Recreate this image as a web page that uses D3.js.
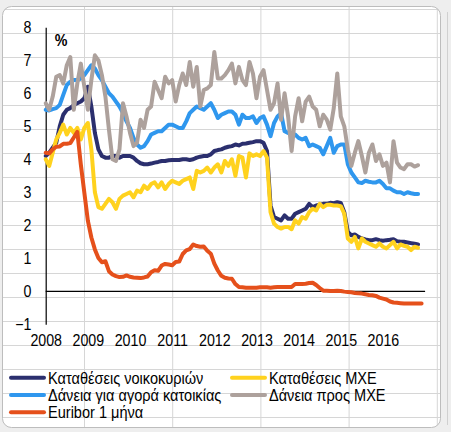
<!DOCTYPE html>
<html><head><meta charset="utf-8">
<script src="https://cdn.jsdelivr.net/npm/d3@7"></script>
<style>
html,body{margin:0;padding:0;background:#efefef;}
svg{display:block;}
text{font-family:"Liberation Sans",Arial,sans-serif;fill:#000;}
</style></head><body>
<svg id="chart" width="451" height="432"></svg>
<script>
// ---------- data (monthly, from Jan 2008) ----------
const years = ["2008","2009","2010","2011","2012","2013","2014","2015","2016"];
const yTicks = [-1,0,1,2,3,4,5,6,7,8];
const unitLabel = "%";
const seriesNames = ["Καταθέσεις νοικοκυριών","Καταθέσεις ΜΧΕ","Δάνεια για αγορά κατοικίας","Δάνεια προς ΜΧΕ","Euribor 1 μήνα"];
const seriesColors = ["#2b2f6e","#ffd21e","#2f97ee","#ada19c","#e5501b"];

const householdDeposits = [
  4.10,4.20,4.35,4.50,5.00,5.35,5.50,5.55,5.65,5.70,5.75,5.85,
  6.20,5.60,4.80,4.30,4.10,4.05,4.05,4.10,4.10,4.05,4.10,4.10,
  4.10,4.05,3.95,3.88,3.85,3.85,3.87,3.90,3.92,3.95,3.95,3.97,
  3.98,3.98,3.98,4.00,4.00,3.98,4.00,4.05,4.08,4.10,4.10,4.15,
  4.25,4.28,4.30,4.35,4.38,4.40,4.45,4.42,4.47,4.48,4.50,4.52,
  4.55,4.55,4.50,4.25,2.60,2.25,2.20,2.15,2.30,2.20,2.20,2.35,
  2.40,2.45,2.50,2.65,2.55,2.60,2.62,2.65,2.65,2.68,2.67,2.70,
  2.68,2.40,1.80,1.70,1.72,1.65,1.60,1.57,1.55,1.55,1.58,1.55,
  1.53,1.55,1.56,1.58,1.52,1.50,1.50,1.48,1.46,1.44,1.42];
const smeDeposits = [
  4.00,3.80,4.20,4.60,4.80,5.05,4.75,4.95,4.80,4.95,4.60,4.95,
  5.10,4.30,3.00,2.55,2.50,2.65,2.80,2.70,2.50,2.80,2.90,2.95,
  3.00,2.85,3.05,3.00,3.20,3.10,3.25,3.30,3.15,3.30,3.10,3.25,
  3.35,3.30,3.25,3.35,3.40,3.45,3.10,3.65,3.60,3.65,3.75,3.60,
  3.75,3.85,3.60,3.95,3.80,4.00,3.50,4.10,4.05,3.45,4.18,4.10,
  4.15,4.10,4.25,4.05,2.40,2.05,1.95,1.90,1.95,1.95,1.88,2.15,
  2.05,2.25,2.20,2.40,2.50,2.45,2.65,2.55,2.62,2.62,2.60,2.60,
  2.58,2.35,1.60,1.50,1.65,1.30,1.60,1.50,1.45,1.40,1.35,1.45,
  1.35,1.30,1.40,1.50,1.30,1.42,1.38,1.35,1.25,1.35,1.32];
const housingLoans = [
  5.50,5.48,5.52,5.55,5.65,5.95,6.25,6.35,6.40,6.40,6.45,6.55,
  6.70,6.85,6.75,6.55,6.40,6.20,6.00,5.90,5.75,5.60,5.40,5.15,
  4.95,4.65,4.45,4.35,4.40,4.55,4.75,4.80,4.85,4.85,4.95,5.05,
  5.05,5.00,4.95,4.95,5.15,5.40,5.50,5.60,5.55,5.50,5.60,5.70,
  5.50,5.25,5.35,5.40,5.45,5.45,5.35,5.05,5.35,5.25,5.25,5.30,
  5.10,5.25,5.30,5.05,4.70,5.10,5.30,5.40,4.85,4.80,4.75,4.75,
  4.65,4.60,4.65,4.40,4.45,4.40,4.35,4.15,4.40,4.65,4.20,4.40,
  4.45,4.45,3.85,3.60,3.45,3.30,3.28,3.35,3.32,3.30,3.30,3.35,
  3.25,3.12,3.12,3.05,3.00,3.00,2.95,3.00,2.97,2.95,2.95];
const smeLoans = [
  5.70,5.50,5.90,6.50,6.55,6.30,6.85,7.10,5.50,6.30,6.90,6.20,
  5.50,6.40,7.15,7.00,6.55,5.90,4.90,4.00,3.95,4.30,5.70,5.30,
  4.80,4.40,4.50,5.20,4.95,5.50,5.60,6.35,6.10,5.85,6.50,6.30,
  6.40,5.75,6.25,6.60,6.25,6.95,6.20,6.80,5.60,6.10,6.15,6.25,
  7.25,6.45,6.45,6.55,6.70,6.90,6.30,6.80,6.40,6.25,6.95,6.60,
  5.85,6.50,6.70,6.10,5.50,5.70,6.30,5.20,6.00,5.30,4.25,5.30,
  5.85,5.15,5.75,5.90,5.60,5.50,5.00,5.35,5.20,4.90,5.55,6.60,
  5.30,5.00,4.30,3.80,4.20,4.55,4.10,3.60,4.20,4.45,3.95,4.15,
  3.80,3.90,3.30,4.55,3.90,3.75,3.70,3.85,3.85,3.78,3.82];
const euribor1m = [
  4.20,4.18,4.30,4.38,4.39,4.47,4.47,4.49,4.66,4.83,3.84,2.99,
  2.14,1.63,1.27,1.01,0.88,0.91,0.61,0.51,0.46,0.43,0.44,0.48,
  0.44,0.42,0.41,0.40,0.42,0.45,0.58,0.64,0.62,0.78,0.83,0.81,
  0.79,0.89,0.90,1.13,1.24,1.28,1.42,1.37,1.35,1.36,1.23,1.14,
  0.84,0.63,0.47,0.41,0.39,0.38,0.22,0.13,0.12,0.11,0.11,0.11,
  0.11,0.12,0.12,0.12,0.11,0.12,0.13,0.13,0.13,0.13,0.13,0.22,
  0.22,0.22,0.23,0.25,0.26,0.19,0.10,0.02,0.02,0.01,0.01,0.02,
  0.01,-0.01,-0.02,-0.03,-0.05,-0.06,-0.07,-0.09,-0.11,-0.12,-0.14,-0.19,
  -0.22,-0.25,-0.31,-0.34,-0.35,-0.36,-0.37,-0.37,-0.37,-0.37,-0.37,-0.37];
const allSeries = [householdDeposits, smeDeposits, housingLoans, smeLoans, euribor1m];

// ---------- layout ----------
const W = 451, H = 432;
const SX = 0.89;   // horizontal squeeze of axis text in the reference
const SXL = 0.91;  // legend text squeeze
const svg = d3.select("#chart");

// spreadsheet background with chart frame
svg.append("rect").attr("width", W).attr("height", H).attr("fill", "#eeeeee");
const frame = {x: 2.5, y: 6.5, w: 438, h: 421, r: 9};
svg.append("clipPath").attr("id", "fc").append("rect")
  .attr("x", frame.x).attr("y", frame.y).attr("width", frame.w).attr("height", frame.h).attr("rx", frame.r);
svg.append("rect").attr("x", frame.x).attr("y", frame.y).attr("width", frame.w).attr("height", frame.h)
  .attr("rx", frame.r).attr("fill", "#ffffff");
const sheet = svg.append("g").attr("clip-path", "url(#fc)");
d3.range(9.5, H, 24).forEach(v => sheet.append("line").attr("x1", 0).attr("x2", W).attr("y1", v).attr("y2", v)
  .attr("stroke", "#d6d6d6").attr("stroke-width", 1));
d3.range(84.5, W, 88.2).forEach(v => sheet.append("line").attr("y1", 0).attr("y2", H).attr("x1", v).attr("x2", v)
  .attr("stroke", "#d6d6d6").attr("stroke-width", 1));
svg.append("rect").attr("x", frame.x).attr("y", frame.y).attr("width", frame.w).attr("height", frame.h)
  .attr("rx", frame.r).attr("fill", "none").attr("stroke", "#bdbdbd");
svg.append("line").attr("x1", 447.5).attr("x2", 447.5).attr("y1", 12).attr("y2", 425).attr("stroke", "#d0d0d0");

// scales
const x = d3.scaleLinear().domain([0, 108]).range([45.7, 425.1]);
const y = d3.scaleLinear().domain([-1, 8]).range([324.3, 27.3]);

// y axis
const yAxis = svg.append("g").attr("transform", `translate(${x(0)},0)`)
  .call(d3.axisLeft(y).tickValues(yTicks).tickFormat(d3.format("d")).tickSize(0).tickPadding(16));
yAxis.select(".domain").attr("stroke", "#000").attr("stroke-width", 1.2);
yAxis.selectAll("text").attr("font-size", 16).attr("font-family", "Liberation Sans, Arial, sans-serif")
  .attr("transform", `scale(${SX},1)`);

// x axis labels (low position)
const xAxis = svg.append("g").attr("transform", `translate(0,${y(-1)})`)
  .call(d3.axisBottom(x).tickValues(years.map((d, i) => i * 12)).tickFormat((d, i) => years[i])
    .tickSize(0).tickPadding(10.5));
xAxis.select(".domain").remove();
xAxis.selectAll("text").attr("font-size", 16).attr("font-family", "Liberation Sans, Arial, sans-serif")
  .attr("transform", `scale(${SX},1)`);

// zero line
svg.append("line").attr("x1", x(0)).attr("x2", x(108)).attr("y1", y(0)).attr("y2", y(0))
  .attr("stroke", "#000").attr("stroke-width", 1.2);

// unit label
svg.append("text").attr("transform", `translate(61,45.5) scale(${SX},1)`)
  .attr("text-anchor", "middle").attr("font-size", 16).attr("font-weight", "bold").text(unitLabel);

// series
const line = d3.line().x((d, i) => x(i)).y(d => y(d));
allSeries.forEach((s, k) => {
  svg.append("path").datum(s).attr("d", line)
    .attr("fill", "none").attr("stroke", seriesColors[k]).attr("stroke-width", 4)
    .attr("stroke-linejoin", "round").attr("stroke-linecap", "round");
});

// legend
const legendCols = [{lx: 9, tx: 48}, {lx: 230, tx: 269}];
const legendRows = [377.7, 395, 412.3];
seriesNames.forEach((name, k) => {
  const col = legendCols[k % 2], row = legendRows[Math.floor(k / 2)];
  svg.append("line").attr("x1", col.lx + 2).attr("x2", col.lx + 35).attr("y1", row).attr("y2", row)
    .attr("stroke", seriesColors[k]).attr("stroke-width", 4).attr("stroke-linecap", "round");
  svg.append("text").attr("transform", `translate(${col.tx},${row + 5.8}) scale(${SXL},1)`)
    .attr("font-size", 16).text(name);
});
</script>
</body></html>
